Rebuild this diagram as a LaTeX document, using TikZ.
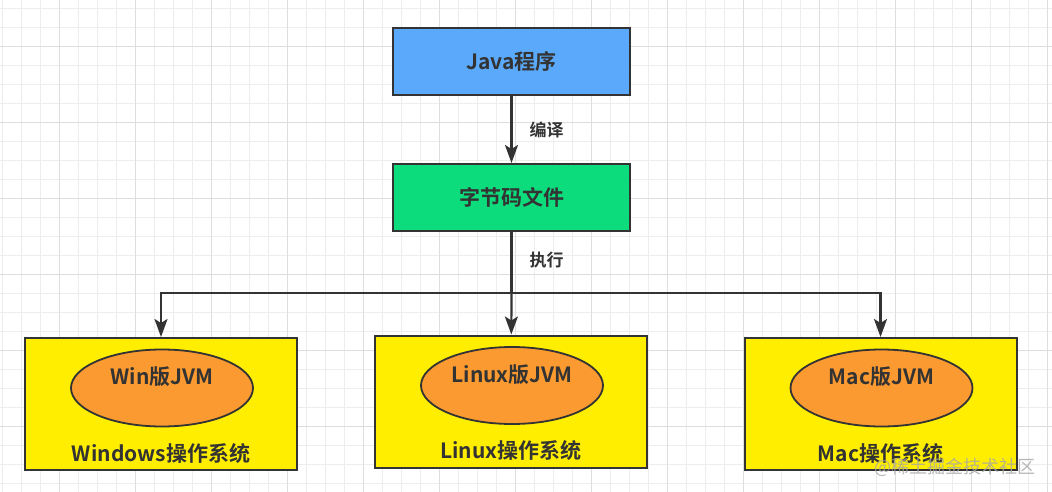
\documentclass[tikz,border=0pt]{standalone}
\usepackage{fontspec}
\usepackage{tikz}
\usetikzlibrary{arrows.meta,shapes.geometric,calc}
\usepackage{xcolor}
\newfontfamily\cjk{Noto Sans CJK SC}[BoldFont={Noto Sans CJK SC Bold}]
\definecolor{JavaBlue}{HTML}{5BA9FA}
\definecolor{CodeGreen}{HTML}{0DDC7C}
\definecolor{OsYellow}{HTML}{FFEE00}
\definecolor{JvmOrange}{HTML}{FA9A30}
\definecolor{InkGray}{HTML}{333333}
\tikzset{
    box/.style={draw=InkGray,line width=2pt,minimum width=237pt,minimum height=67pt,
        inner sep=0pt,font=\cjk\bfseries\fontsize{21}{24}\selectfont,text=InkGray},
    osbox/.style={draw=InkGray,line width=2pt,fill=OsYellow,minimum width=272pt,
        minimum height=132pt,inner sep=0pt},
    jvm/.style={ellipse,draw=InkGray,line width=1.8pt,fill=JvmOrange,minimum width=182pt,
        minimum height=77pt,inner sep=0pt},
    txt/.style={font=\cjk\bfseries\fontsize{21}{24}\selectfont,text=InkGray,inner sep=0pt},
    lbl/.style={font=\cjk\bfseries\fontsize{17}{20}\selectfont,text=InkGray,inner sep=0pt},
    link/.style={draw=InkGray,line width=2.2pt},
    arrow/.style={link,-{Stealth[length=18pt,width=13pt,inset=4pt]}},
    minor/.style={draw=black!7,line width=0.8pt},
    major/.style={draw=black!13,line width=0.9pt}
}

\begin{document}
\begin{tikzpicture}[x=1pt,y=-1pt]
    \useasboundingbox[fill=white] (0,0) rectangle (1052,492);
    \foreach \gx in {2,21,...,1052} {
     \draw[minor] (\gx,0) -- (\gx,492);
    }
    \foreach \gy in {8,27,...,492} {
     \draw[minor] (0,\gy) -- (1052,\gy);
    }
    \foreach \gx in {59,135,...,1052} {
     \draw[major] (\gx,0) -- (\gx,492);
    }
    \foreach \gy in {46,122,...,492} {
     \draw[major] (0,\gy) -- (1052,\gy);
    }

    \node[box,fill=JavaBlue] (java) at (511.5,61.5) {Java程序};
    \node[box,fill=CodeGreen] (code) at (511.5,197.5) {字节码文件};

    \foreach \bx/\by/\name/\os/\ver in {161/404/win/Windows/Win,511/401.5/linux/Linux/Linux,880.5/404/mac/Mac/Mac} {
     \node[osbox] (\name) at (\bx,\by) {};
     \node[jvm] (\name jvm) at ($(\name.center)+(1,-16)$) {};
     \node[txt] (\name ver) at ($(\name.center)+(1,-27)$) {\ver 版JVM};
     \node[txt] (\name os) at ($(\name.center)+(0,49)$) {\os 操作系统};
    }

    \draw[arrow] (java) -- node[lbl,right=17pt] (compile) {编译} (code);
    \coordinate (split) at ([yshift=-61pt]code.south);
    \draw[link] (code) -- node[lbl,right=17pt,yshift=2pt] (run) {执行} (split);
    \draw[arrow] (split) -- (linux);
    \draw[arrow] (split) -| (win);
    \draw[arrow] (split) -| (mac);

    \node[font=\cjk\fontsize{18}{20}\selectfont,text=black!35,opacity=0.8,anchor=east,inner sep=0pt]
     (mark) at (1036,467) {@稀土掘金技术社区};
\end{tikzpicture}
\end{document}
